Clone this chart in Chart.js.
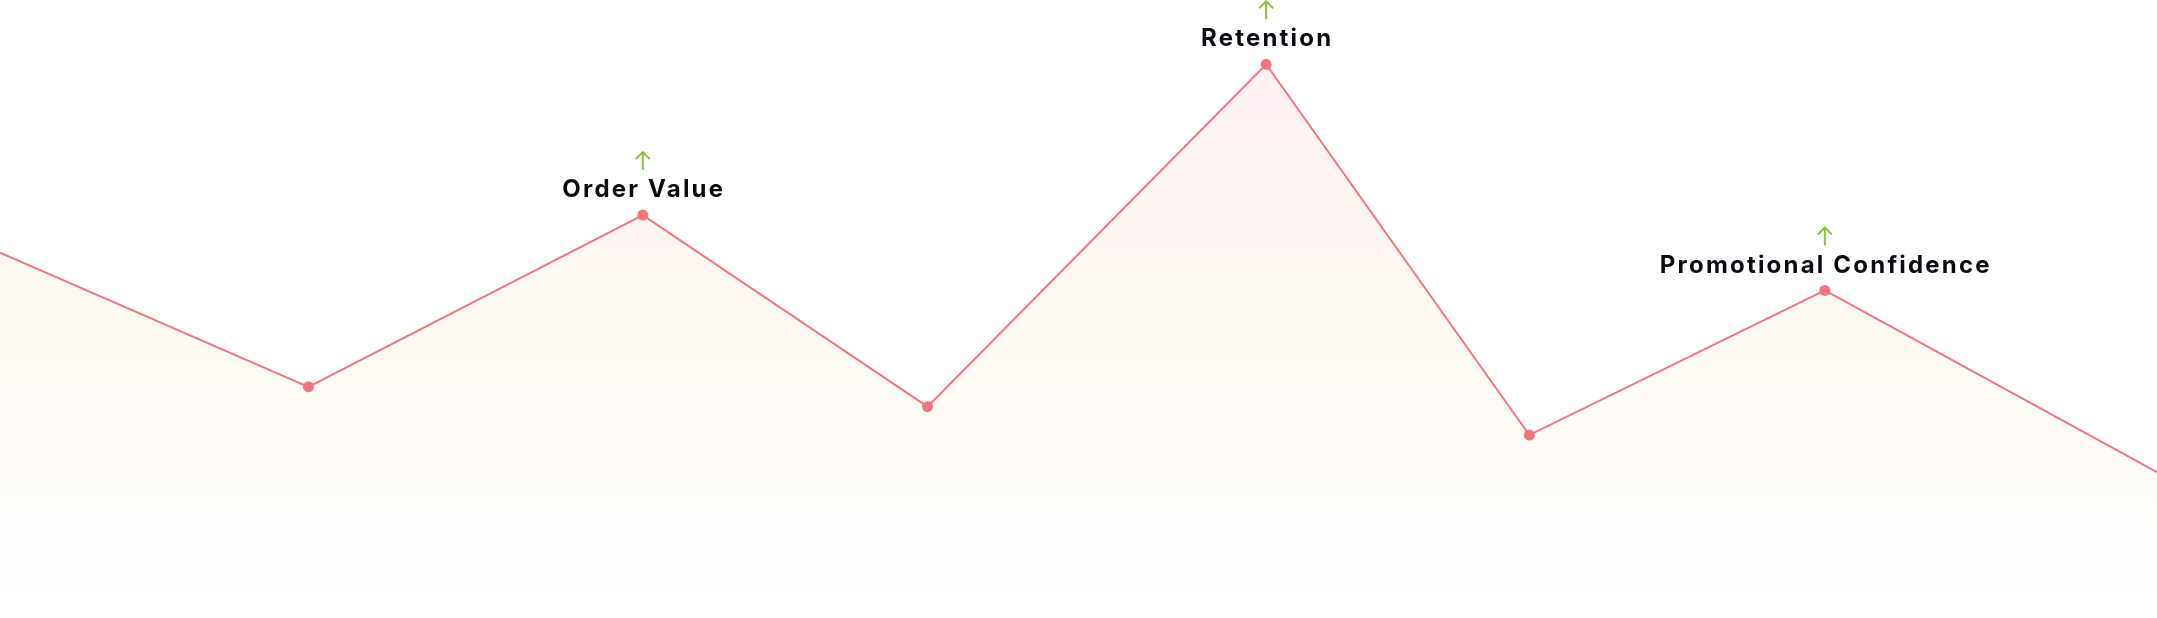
<!DOCTYPE html>
<html>
<head>
<meta charset="utf-8">
<title>Metrics</title>
<script src="https://cdn.jsdelivr.net/npm/chart.js@4.4.1/dist/chart.umd.min.js"></script>
<style>
    html, body { margin: 0; padding: 0; background: #ffffff; }
    #wrap { position: relative; width: 2157px; height: 618px; }
</style>
</head>
<body>
<div id="wrap"><canvas id="metricChart"></canvas></div>
<script>
// x positions (0-100 across the strip) and values (0-100)
const xPositions = [0, 14.3, 29.8, 43.0, 58.7, 70.9, 84.6, 100];
const values = [59.1, 37.4, 65.2, 34.2, 89.6, 29.6, 53.0, 23.6];
const pointLabels = ['', '', 'Order Value', '', 'Retention', '', 'Promotional Confidence', ''];

const lineColor = '#ef7580';
const arrowColor = '#8cbf45';

const peakLabels = {
    id: 'peakLabels',
    afterDatasetsDraw(chart) {
        const ctx = chart.ctx;
        const meta = chart.getDatasetMeta(0);
        ctx.save();
        meta.data.forEach((pt, i) => {
            const text = pointLabels[i];
            if (!text) return;
            const x = pt.x;
            const y = pt.y;

            ctx.font = '700 24px Inter, "Open Sans", sans-serif';
            ctx.letterSpacing = '2.2px';
            ctx.fillStyle = '#0b0b12';
            ctx.textAlign = 'center';
            ctx.textBaseline = 'middle';
            ctx.fillText(text, x + 1, y - 25);

            // green arrow
            ctx.strokeStyle = arrowColor;
            ctx.lineWidth = 2;
            ctx.beginPath();
            ctx.moveTo(x, y - 45);
            ctx.lineTo(x, y - 63);
            ctx.moveTo(x - 7, y - 56);
            ctx.lineTo(x, y - 63);
            ctx.lineTo(x + 7, y - 56);
            ctx.stroke();
        });
        ctx.restore();
    }
};

document.addEventListener('DOMContentLoaded', function() {
    const ctx = document.getElementById('metricChart').getContext('2d');

    new Chart(ctx, {
        type: 'line',
        data: {
            datasets: [{
                data: xPositions.map((x, i) => ({ x: x, y: values[i] })),
                borderColor: lineColor,
                borderWidth: 2,
                tension: 0,
                pointRadius: (c) => (c.dataIndex === 0 || c.dataIndex === values.length - 1) ? 0 : 5.5,
                pointBackgroundColor: lineColor,
                pointBorderWidth: 0,
                fill: 'start',
                backgroundColor: function(context) {
                    const area = context.chart.chartArea;
                    if (!area) return 'rgba(255,240,244,0.6)';
                    const g = context.chart.ctx.createLinearGradient(0, area.top + 60, 0, area.bottom);
                    g.addColorStop(0, '#fff0f4');
                    g.addColorStop(0.45, '#fdf8f1');
                    g.addColorStop(1, '#ffffff');
                    return g;
                }
            }]
        },
        options: {
            responsive: true,
            maintainAspectRatio: false,
            animation: false,
            layout: { padding: 0 },
            plugins: {
                legend: { display: false },
                tooltip: { enabled: false }
            },
            scales: {
                x: { type: 'linear', min: 0, max: 100, display: false },
                y: { min: 0, max: 100, display: false }
            }
        },
        plugins: [peakLabels]
    });
});
</script>
</body>
</html>
